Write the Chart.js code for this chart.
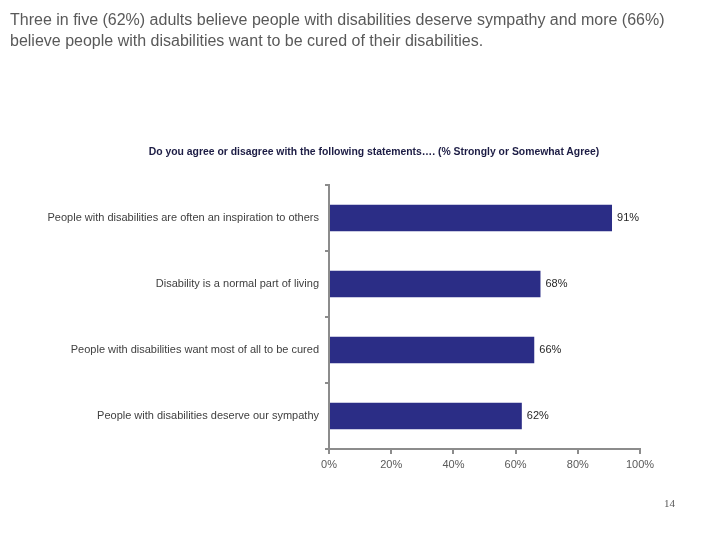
<!DOCTYPE html>
<html>
<head>
<meta charset="utf-8">
<script src="https://cdn.jsdelivr.net/npm/chart.js@4/dist/chart.umd.min.js"></script>
<style>
  body { margin: 0; background: #fff; }
  #wrap { position: relative; width: 720px; height: 540px; overflow: hidden; }
  #chart { position: absolute; left: 0; top: 0; }
  #headline { position: absolute; left: 10px; top: 9px; width: 690px; font: 16px "Liberation Sans", Arial, sans-serif; line-height: 21px; color: #595959; }
  #question { position: absolute; left: 0; top: 146px; width: 748px; text-align: center; font: bold 10.4px "Liberation Sans", Arial, sans-serif; color: #1c1c44; }
  #page { position: absolute; left: 664px; top: 497px; font: 11px "Liberation Serif", serif; color: #595959; }
</style>
</head>
<body>
<div id="wrap">
  <canvas id="chart" width="720" height="540"></canvas>
  <div id="headline">Three in five (62%) adults believe people with disabilities deserve sympathy and more (66%) believe people with disabilities want to be cured of their disabilities.</div>
  <div id="question">Do you agree or disagree with the following statements…. (% Strongly or Somewhat Agree)</div>
  <div id="page">14</div>
</div>
<script>
var statements = [
    'People with disabilities are often an inspiration to others',
    'Disability is a normal part of living',
    'People with disabilities want most of all to be cured',
    'People with disabilities deserve our sympathy'
];
var agreePercent = [91, 68, 66, 62];
var xTicks = [0, 20, 40, 60, 80, 100];

var axisGray = '#8c8c8c';

var valueLabels = {
    id: 'valueLabels',
    afterDatasetsDraw: function(chart) {
        var ctx = chart.ctx;
        var meta = chart.getDatasetMeta(0);
        ctx.save();
        ctx.font = '11px "Liberation Sans", Arial, sans-serif';
        ctx.fillStyle = '#262626';
        ctx.textBaseline = 'middle';
        meta.data.forEach(function(bar, i) {
            ctx.fillText(agreePercent[i] + '%', bar.x + 5, bar.y);
        });
        ctx.restore();
    }
};

new Chart(document.getElementById('chart'), {
    type: 'bar',
    data: {
        labels: statements,
        datasets: [{
            data: agreePercent,
            backgroundColor: '#2b2d86',
            categoryPercentage: 0.8,
            barPercentage: 0.5
        }]
    },
    plugins: [valueLabels],
    options: {
        indexAxis: 'y',
        responsive: false,
        animation: false,
        layout: { padding: { top: 185, right: 80, bottom: 61, left: 0 } },
        plugins: {
            legend: { display: false },
            tooltip: { enabled: false }
        },
        scales: {
            x: {
                min: 0,
                max: 100,
                afterFit: function(scale) { scale.height = 30; },
                afterBuildTicks: function(scale) {
                    scale.ticks = xTicks.map(function(v) { return { value: v }; });
                },
                ticks: {
                    color: '#595959',
                    font: { size: 11, family: '"Liberation Sans", Arial, sans-serif' },
                    padding: 4,
                    callback: function(v) { return v + '%'; }
                },
                grid: { drawOnChartArea: false, drawTicks: true, tickLength: 5, color: axisGray, lineWidth: 2 },
                border: { color: axisGray, width: 2 }
            },
            y: {
                afterFit: function(scale) { scale.width = 329; },
                ticks: {
                    color: '#404040',
                    font: { size: 11, family: '"Liberation Sans", Arial, sans-serif' },
                    padding: 6
                },
                grid: { drawOnChartArea: false, drawTicks: true, tickLength: 4, color: axisGray, lineWidth: 2, offset: true },
                border: { color: axisGray, width: 2 }
            }
        }
    }
});
</script>
</body>
</html>
